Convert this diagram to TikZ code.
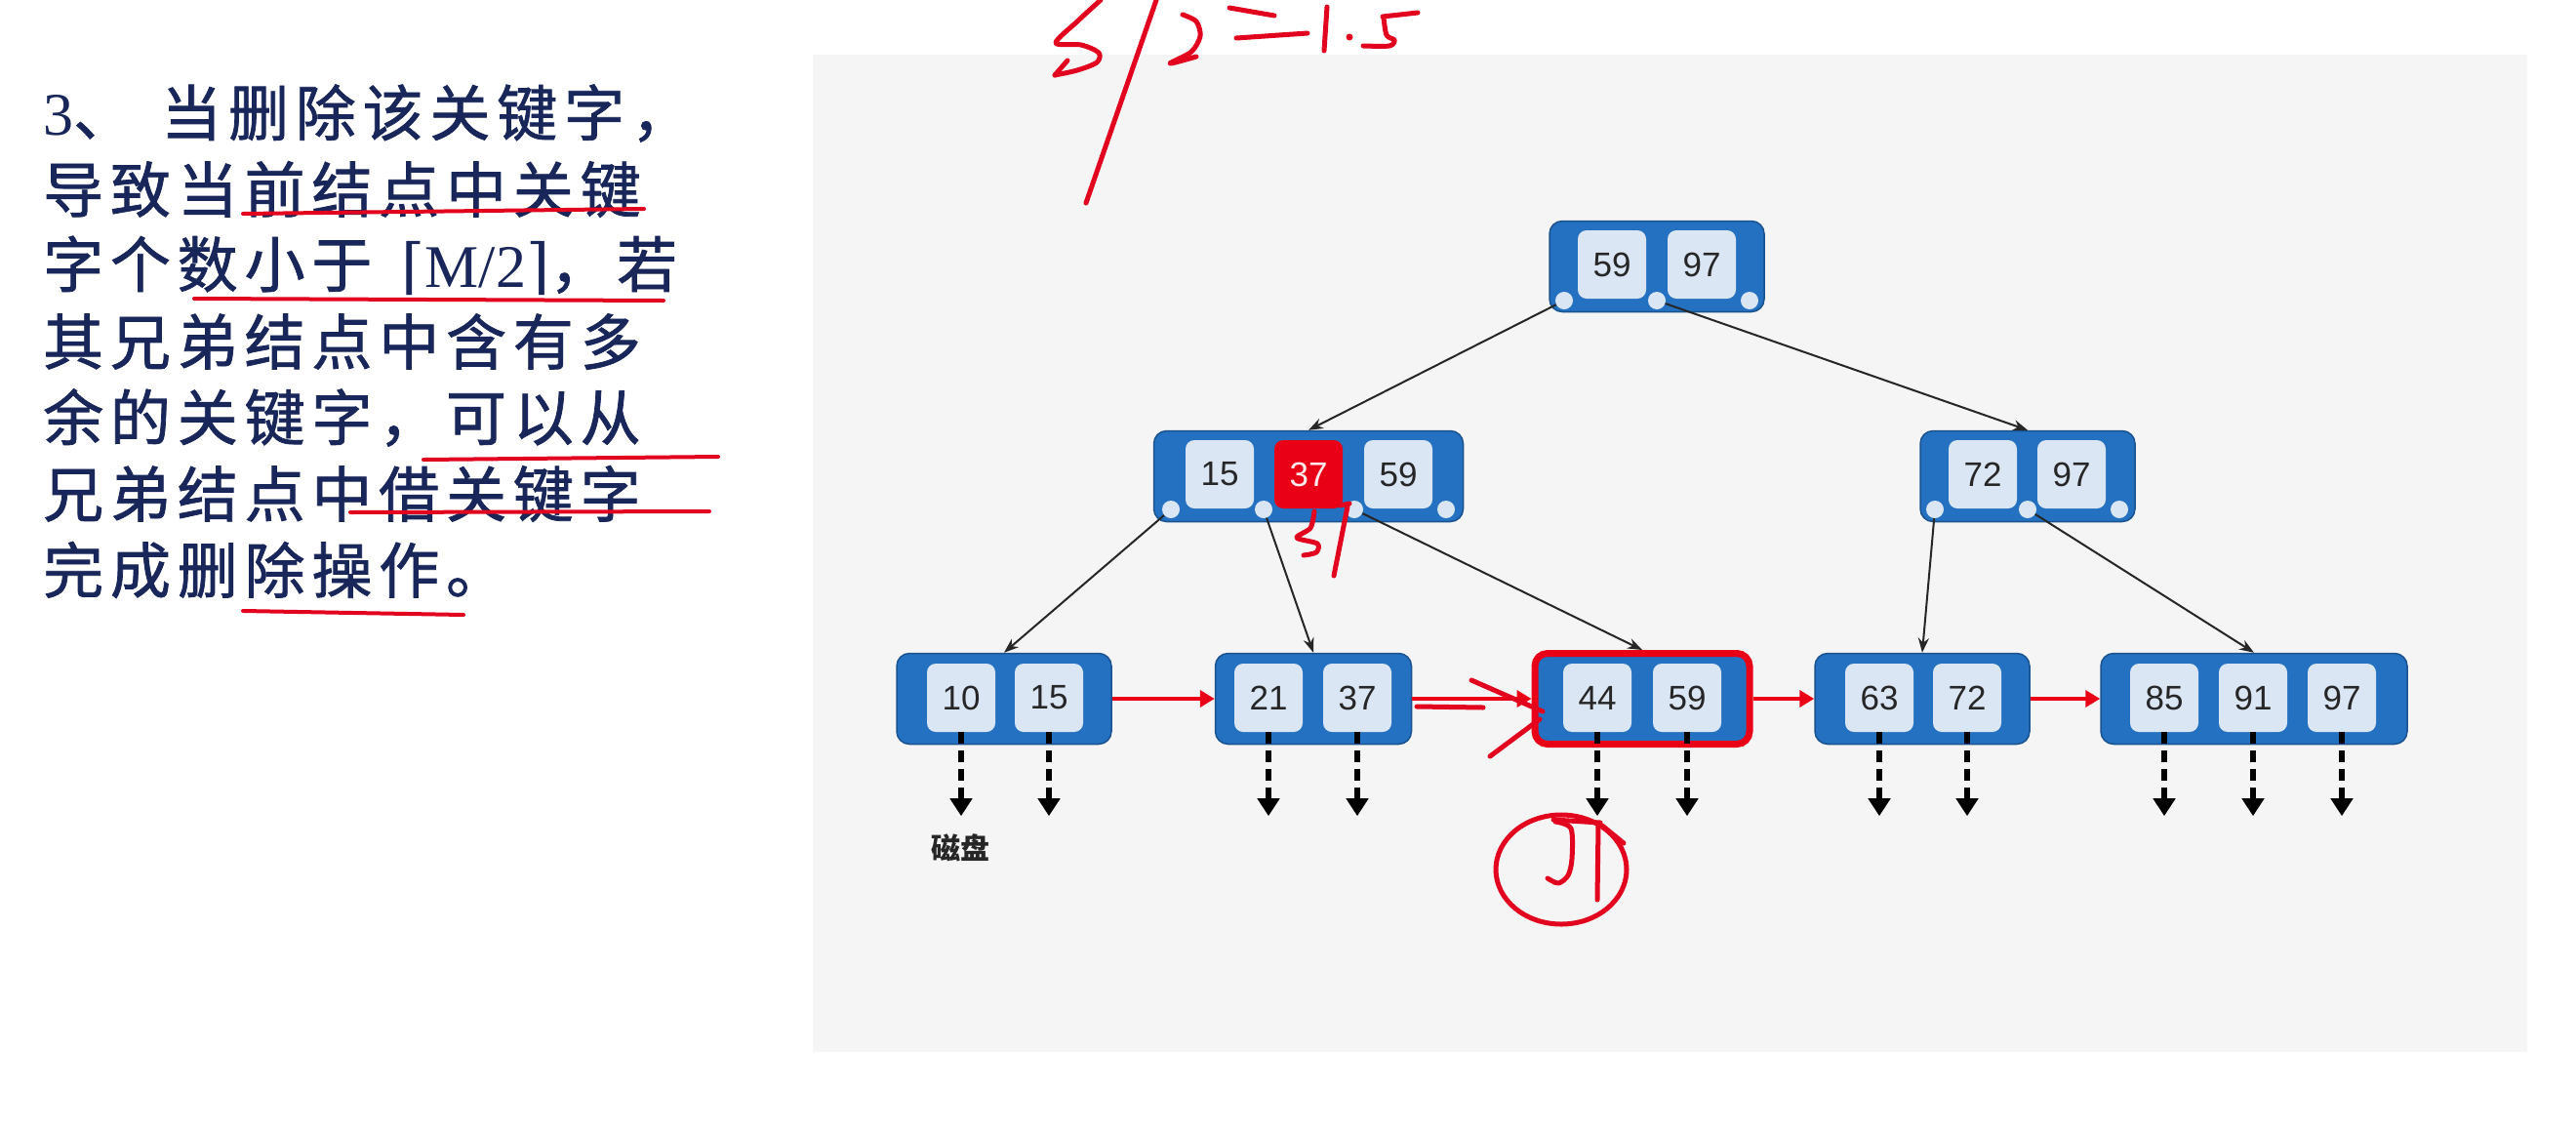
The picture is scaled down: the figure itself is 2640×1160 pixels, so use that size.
\documentclass[tikz,border=0pt]{standalone}
\usepackage{fontspec}
\setmainfont{Liberation Sans}
\newfontfamily\cjk[LetterSpace=11,FakeBold=1.2]{Noto Sans CJK SC}
\newfontfamily\cjkplain{Noto Sans CJK SC}
\newfontfamily\dejaser{DejaVu Serif}
\newfontfamily\timesr{Liberation Serif}
\usepackage{tikz}
\usetikzlibrary{arrows.meta}
\definecolor{nodeblue}{RGB}{35,113,192}
\definecolor{nodeedge}{RGB}{26,82,142}
\definecolor{keyfill}{RGB}{219,230,245}
\definecolor{keytext}{RGB}{38,38,38}
\definecolor{hotred}{RGB}{234,0,22}
\definecolor{inkred}{RGB}{226,4,30}
\definecolor{navy}{RGB}{24,38,90}
\definecolor{panel}{RGB}{245,245,245}

\begin{document}
\begin{tikzpicture}[x=1pt,y=-1pt,
  bnode/.style={draw=nodeedge,line width=1.5pt,fill=nodeblue,rounded corners=13pt,minimum height=93pt,inner sep=0pt},
  keybox/.style={fill=keyfill,rounded corners=9pt,minimum size=70pt,inner sep=0pt,text=keytext,font=\fontsize{35}{40}\selectfont},
  ptr/.style={circle,fill=keyfill,minimum size=18pt,inner sep=0pt},
  treeedge/.style={-{Stealth[length=15pt,width=11pt]},line width=2pt,black!85},
  leafchain/.style={-{Triangle[length=15pt,width=17pt]},line width=4.5pt,hotred},
  diskarrow/.style={-{Triangle[length=18pt,width=22pt]},line width=5.5pt,dash pattern=on 12pt off 7pt,black},
  ink/.style={inkred,line width=5pt,line cap=round,line join=round},
  txtline/.style={anchor=west,inner sep=0pt,text=navy,font=\cjk\fontsize{62}{70}\selectfont}]
\useasboundingbox (0,0) rectangle (2640,1160);
\fill[white] (0,0) rectangle (2640,1160);
\fill[panel] (833,56) rectangle (2590,1078);

% rule text
\node[txtline] (t1) at (44,116) {{\timesr 3}、\hspace{28pt}当删除该关键字，};
\node[txtline] (t2) at (44,194) {导致当前结点中关键};
\node[txtline] (t3) at (44,272) {字个数小于\hspace{30pt}{\dejaser ⌈}{\timesr M/2}{\dejaser ⌉}，若};
\node[txtline] (t4) at (44,350) {其兄弟结点中含有多};
\node[txtline] (t5) at (44,428) {余的关键字，可以从};
\node[txtline] (t6) at (44,506) {兄弟结点中借关键字};
\node[txtline] (t7) at (44,584) {完成删除操作。};

% root
\node[bnode,minimum width=220pt] (root) at (1698,273) {};
\node[keybox] (root-1) at (1652,271) {59};
\node[keybox] (root-2) at (1744,271) {97};
\foreach \x [count=\i] in {1603,1698,1793}
  \node[ptr] (root-p\i) at (\x,308) {};

% inner nodes
\node[bnode,minimum width=317pt] (m1) at (1341,488) {};
\node[keybox] (m1-1) at (1250,486) {15};
\node[keybox,fill=hotred,text=red!8] (m1-2) at (1341,486) {37};
\node[keybox] (m1-3) at (1433,486) {59};
\foreach \x [count=\i] in {1200,1295,1388,1482}
  \node[ptr] (m1-p\i) at (\x,522) {};

\node[bnode,minimum width=220pt] (m2) at (2078,488) {};
\node[keybox] (m2-1) at (2032,486) {72};
\node[keybox] (m2-2) at (2123,486) {97};
\foreach \x [count=\i] in {1983,2078,2172}
  \node[ptr] (m2-p\i) at (\x,522) {};

% leaves
\node[bnode,minimum width=220pt] (l1) at (1029,716) {};
\node[keybox] (l1-1) at (985,715) {10};
\node[keybox] (l1-2) at (1075,715) {15};
\node[bnode,minimum width=201pt] (l2) at (1346,716) {};
\node[keybox] (l2-1) at (1300,715) {21};
\node[keybox] (l2-2) at (1391,715) {37};
\node[bnode,minimum width=220pt,draw=hotred,line width=7pt] (l3) at (1683,716) {};
\node[keybox] (l3-1) at (1637,715) {44};
\node[keybox] (l3-2) at (1729,715) {59};
\node[bnode,minimum width=220pt] (l4) at (1970,716) {};
\node[keybox] (l4-1) at (1926,715) {63};
\node[keybox] (l4-2) at (2016,715) {72};
\node[bnode,minimum width=314pt] (l5) at (2310,716) {};
\node[keybox] (l5-1) at (2218,715) {85};
\node[keybox] (l5-2) at (2309,715) {91};
\node[keybox] (l5-3) at (2400,715) {97};

% child pointers
\draw[treeedge] (root-p1) -- (m1.north);
\draw[treeedge] (root-p2) -- (m2.north);
\draw[treeedge] (m1-p1) -- (l1.north);
\draw[treeedge] (m1-p2) -- (l2.north);
\draw[treeedge] (m1-p3) -- (l3.north);
\draw[treeedge] (m2-p1) -- (l4.north);
\draw[treeedge] (m2-p2) -- (l5.north);

% leaf list
\draw[leafchain] (l1) -- (l2);
\draw[leafchain] (l2) -- (l3);
\draw[leafchain] (l3) -- (l4);
\draw[leafchain] (l4) -- (l5);

% records on disk
\foreach \k in {l1-1,l1-2,l2-1,l2-2,l3-1,l3-2,l4-1,l4-2,l5-1,l5-2,l5-3} {
  \coordinate (\k-d) at ([yshift=-86pt]\k.south);
  \draw[diskarrow] (\k.south) -- (\k-d);
}
\node[font=\cjkplain\bfseries\fontsize{30}{32}\selectfont,text=black!85] (disk) at (984,869) {磁盘};

% pen marks
\draw[ink] plot[smooth] coordinates {(1128,0) (1104,22) (1082,44) (1108,46) (1126,54) (1124,64) (1104,72) (1081,77)};
\draw[ink] (1081,77) -- (1094,62);
\draw[ink] (1185,0) -- (1113,208);
\draw[ink] plot[smooth] coordinates {(1212,15) (1226,22) (1230,37) (1221,53) (1199,65) (1226,58)};
\draw[ink] (1260,8) -- (1306,16);
\draw[ink] (1267,39) -- (1340,34);
\draw[ink] (1360,7) -- (1357,52);
\fill[inkred] (1383,38) circle (3.5);
\draw[ink] (1417,17) -- (1453,13);
\draw[ink] plot[smooth] coordinates {(1418,18) (1421,36) (1429,41) (1424,47) (1397,47)};

\draw[ink] plot[smooth] coordinates {(1347,524) (1343,541) (1329,551) (1350,557) (1349,566) (1336,569)};
\draw[ink] (1373,518) -- (1383,516);
\draw[ink] (1381,519) -- (1367,590);

\draw[ink] (1600,891) ellipse [x radius=67, y radius=56];
\draw[ink] plot[smooth] coordinates {(1594,842) (1610,849) (1611,880) (1607,897) (1597,905) (1586,900)};
\draw[ink] (1592,840) -- (1640,843);
\draw[ink] (1638,845) -- (1637,922);
\draw[ink] (1642,846) -- (1664,864);

\draw[ink] (1508,697) -- (1581,729);
\draw[ink] (1527,775) -- (1578,737);
\draw[ink] (1452,724) -- (1520,725);

\draw[ink,line width=4pt] (249,219) -- (660,214);
\draw[ink,line width=4pt] (199,306) -- (680,308);
\draw[ink,line width=4pt] (434,471) -- (736,468);
\draw[ink,line width=4pt] (359,525) -- (727,524);
\draw[ink,line width=4pt] (249,626) -- (475,630);
\end{tikzpicture}
\end{document}
